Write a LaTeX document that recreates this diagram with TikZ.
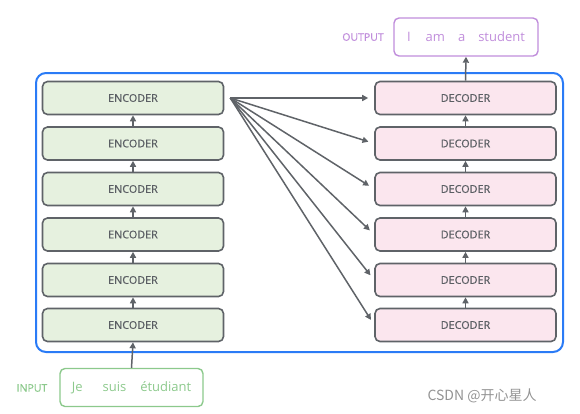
\documentclass[tikz,border=0pt]{standalone}
\usepackage{fontspec}
\setmainfont{Open Sans}
\newfontfamily\semib{Open Sans}[FakeBold=0.6]
\newfontfamily\cjk{Noto Sans CJK SC}
\usetikzlibrary{arrows.meta}
\definecolor{boxgray}{HTML}{5F6368}
\definecolor{txtgray}{HTML}{5A5E63}
\definecolor{encfill}{HTML}{E6F1DF}
\definecolor{decfill}{HTML}{FBE6EE}
\definecolor{outerblue}{HTML}{2A7BF6}
\definecolor{outpurple}{HTML}{C08DDB}
\definecolor{ingreen}{HTML}{8CC98C}
\begin{document}
\begin{tikzpicture}[x=1pt,y=-1pt,
  layer/.style={draw=boxgray, line width=1.6pt, rounded corners=5pt, minimum width=181pt, minimum height=33pt, inner sep=0pt, font=\semib\fontsize{10.8}{12}\selectfont, text=txtgray},
  enc/.style={layer, fill=encfill},
  dec/.style={layer, fill=decfill},
  arr/.style={draw=boxgray, line width=1.5pt, -{Triangle[length=6pt,width=6pt]}},
  tag/.style={font=\semib\fontsize{10.5}{12}\selectfont},
  words/.style={rounded corners=5pt, line width=1.4pt, minimum height=38pt, inner sep=0pt, font=\fontsize{13}{15}\selectfont}
]
\useasboundingbox (0,0) rectangle (580,413);
\node[draw=outerblue, line width=2pt, rounded corners=10pt, minimum width=527pt, minimum height=279pt, inner sep=0pt] (outer) at (299.5,212.5) {};
\foreach \i/\y in {1/98,2/143.5,3/189,4/234.5,5/280,6/325}{
  \node[enc] (e\i) at (133,\y) {ENCODER};
  \node[dec] (d\i) at (465.5,\y) {DECODER};
}
\foreach \i/\j in {2/1,3/2,4/3,5/4,6/5}{
  \draw[arr] (e\i.north) -- (e\j.south);
  \draw[arr] (d\i.north) -- (d\j.south);
}
\coordinate (src) at ([xshift=6pt]e1.east);
\foreach \i in {1,...,6}{
  \draw[arr, shorten >=6pt] (src) -- (d\i.west);
}
\node[words, draw=ingreen, minimum width=143pt, text=ingreen] (in) at (131.5,387.5) {Je\hspace{20pt}suis\hspace{14pt}étudiant};
\node[tag, text=ingreen] (inl) at (32,388) {INPUT};
\node[words, draw=outpurple, minimum width=144pt, text=outpurple] (out) at (466,37) {I\hspace{15pt}am\hspace{13pt}a\hspace{13pt}student};
\node[tag, text=outpurple] (outl) at (363,37) {OUTPUT};
\draw[arr] (in.north) -- (e6.south);
\draw[arr] (d1.north) -- (out.south);
\node[text=gray!85, font=\cjk\fontsize{14}{16}\selectfont, anchor=west] (wm) at (424,396) {CSDN @开心星人};
\end{tikzpicture}
\end{document}
